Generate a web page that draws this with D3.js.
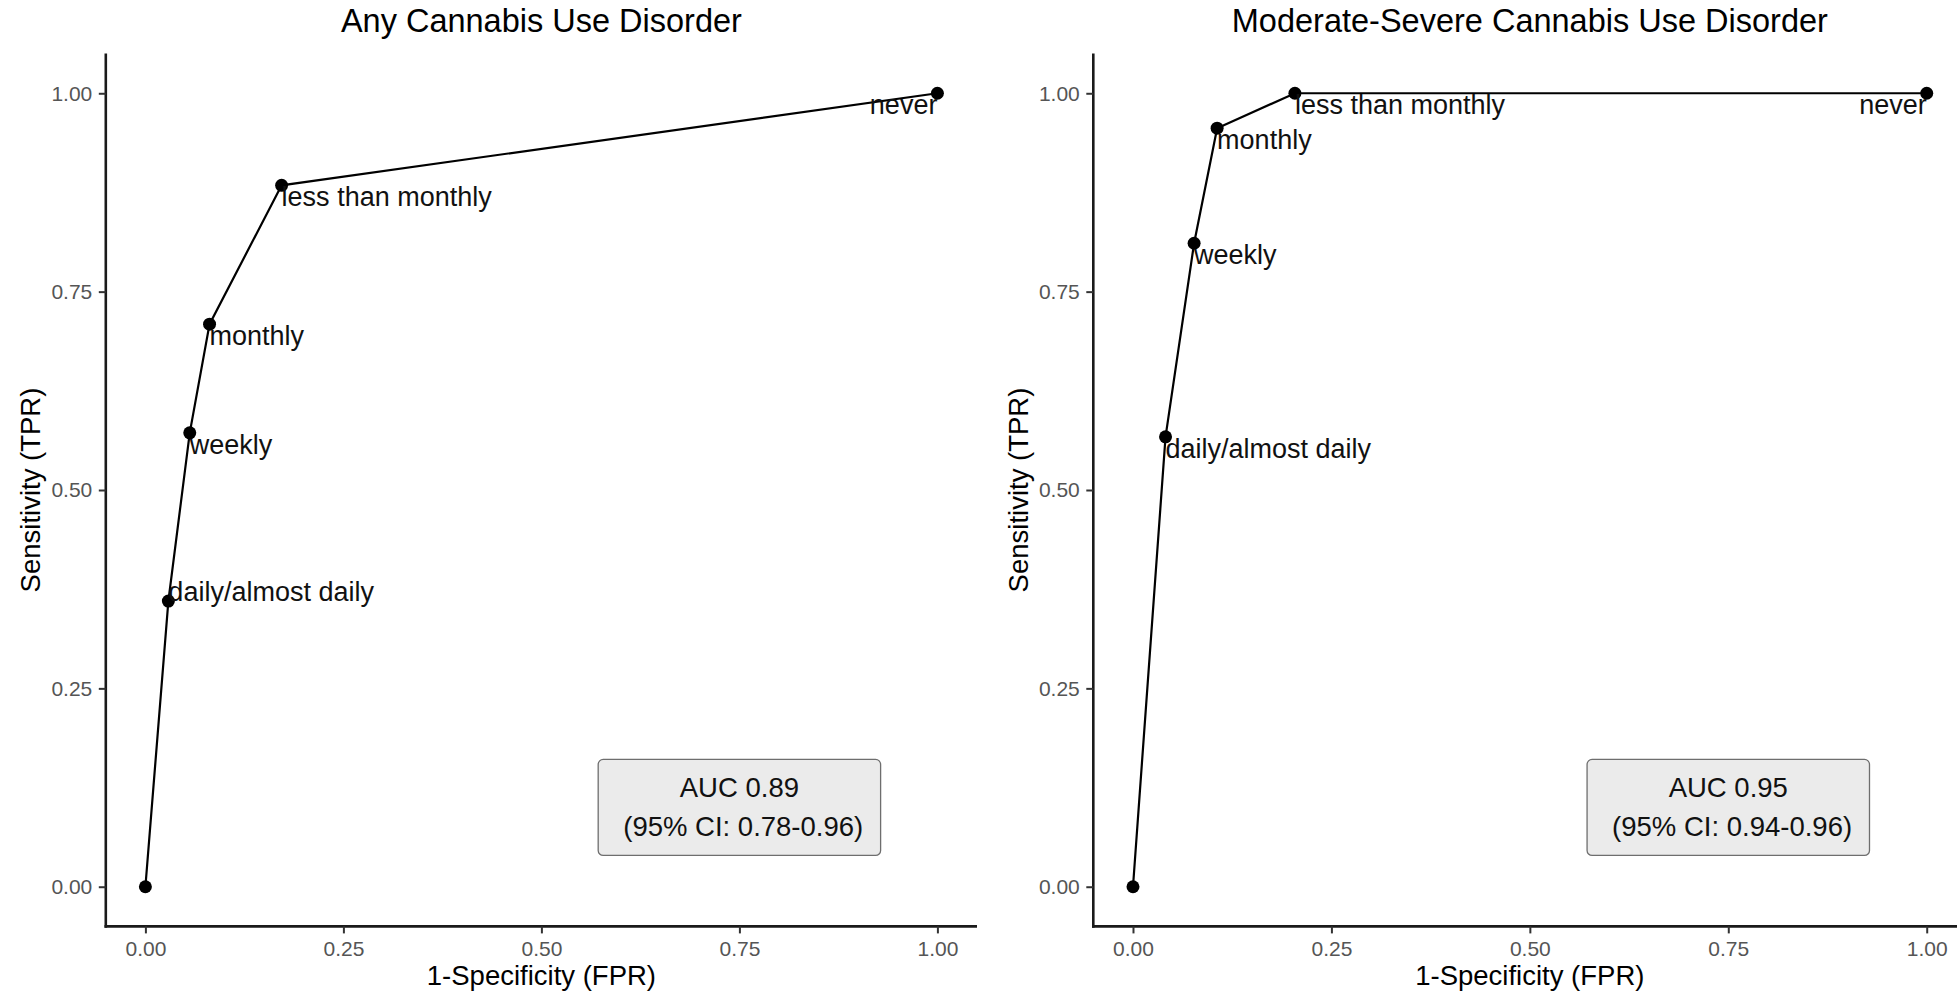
<!DOCTYPE html>
<html>
<head>
<meta charset="utf-8">
<script src="https://cdn.jsdelivr.net/npm/d3@7"></script>
<style>
  html, body { margin: 0; padding: 0; background: #fff; }
  svg { display: block; font-family: "Liberation Sans", Arial, Helvetica, sans-serif; }
</style>
</head>
<body>
<svg id="chart" width="1957" height="993"></svg>
<script>
// ROC points per usage-frequency threshold (FPR, TPR)
const thresholdLabels = ["", "daily/almost daily", "weekly", "monthly", "less than monthly", "never"];

const anyFPR = [0, 0.029, 0.056, 0.081, 0.172, 1];
const anyTPR = [0, 0.360, 0.572, 0.709, 0.884, 1];

const modFPR = [0, 0.041, 0.077, 0.106, 0.204, 1];
const modTPR = [0, 0.567, 0.811, 0.956, 1.000, 1];

const panelTitles = ["Any Cannabis Use Disorder", "Moderate-Severe Cannabis Use Disorder"];
const aucText = [
  ["AUC 0.89", " (95% CI: 0.78-0.96)"],
  ["AUC 0.95", " (95% CI: 0.94-0.96)"]
];
const aucPosition = [0.75, 0.10];   // data coordinates of the AUC box centre

const tickValues = [0, 0.25, 0.5, 0.75, 1];
const xTitle = "1-Specificity (FPR)";
const yTitle = "Sensitivity (TPR)";

const panels = [
  { title: panelTitles[0], fpr: anyFPR, tpr: anyTPR, auc: aucText[0], x0: 105.8, x1: 977.0 },
  { title: panelTitles[1], fpr: modFPR, tpr: modTPR, auc: aucText[1], x0: 1093.3, x1: 1966.4 }
];

const svg = d3.select("#chart");
const yTop = 53.6, yBottom = 926.4;
const fsTitle = 32.5, fsAxisTitle = 27.5, fsTick = 21, fsLabel = 27, fsAuc = 27.5;

panels.forEach(p => {
  const x = d3.scaleLinear().domain([-0.05, 1.05]).range([p.x0, p.x1]);
  const y = d3.scaleLinear().domain([-0.05, 1.05]).range([yBottom, yTop]);
  const g = svg.append("g");

  // axes
  const xAxis = d3.axisBottom(x).tickValues(tickValues).tickFormat(d3.format(".2f"))
    .tickSize(7).tickSizeOuter(0).tickPadding(8);
  const yAxis = d3.axisLeft(y).tickValues(tickValues).tickFormat(d3.format(".2f"))
    .tickSize(7).tickSizeOuter(0).tickPadding(6.5);

  const gx = g.append("g").attr("transform", `translate(0,${yBottom})`).call(xAxis);
  const gy = g.append("g").attr("transform", `translate(${p.x0},0)`).call(yAxis);
  [gx, gy].forEach(a => {
    a.select(".domain").attr("stroke", "#1a1a1a").attr("stroke-width", 2.6);
    a.selectAll(".tick line").attr("stroke", "#333").attr("stroke-width", 2);
    a.selectAll(".tick text").attr("fill", "#555").attr("font-size", fsTick)
      .attr("font-family", "Liberation Sans, Arial, sans-serif");
  });
  // extend axis lines so they meet at the corner
  gx.select(".domain").attr("d", `M${p.x0 - 1.3},0H${p.x1}`);
  gy.select(".domain").attr("d", `M0,${yTop}V${yBottom + 1.3}`);

  // titles
  g.append("text").attr("x", (p.x0 + p.x1) / 2).attr("y", 31.7)
    .attr("text-anchor", "middle").attr("font-size", fsTitle).attr("fill", "#000")
    .text(p.title);
  g.append("text").attr("x", (p.x0 + p.x1) / 2).attr("y", 985)
    .attr("text-anchor", "middle").attr("font-size", fsAxisTitle).attr("fill", "#000")
    .text(xTitle);
  g.append("text")
    .attr("transform", `translate(${p.x0 - 65.8},${(yTop + yBottom) / 2}) rotate(-90)`)
    .attr("text-anchor", "middle").attr("font-size", fsAxisTitle).attr("fill", "#000")
    .text(yTitle);

  // ROC curve
  const pts = p.fpr.map((f, i) => ({ f, t: p.tpr[i], label: thresholdLabels[i] }));
  const line = d3.line().x(d => x(d.f)).y(d => y(d.t));
  g.append("path").datum(pts).attr("d", line)
    .attr("fill", "none").attr("stroke", "#000").attr("stroke-width", 2.2);

  g.selectAll("circle").data(pts).join("circle")
    .attr("cx", d => x(d.f)).attr("cy", d => y(d.t)).attr("r", 6.5).attr("fill", "#000");

  // threshold labels, pushed inward from the point
  g.selectAll("text.lbl").data(pts.filter(d => d.label)).join("text")
    .attr("class", "lbl")
    .attr("x", d => x(d.f)).attr("y", d => y(d.t))
    .attr("dy", d => d.t > 0.5 ? "0.78em" : "0em")
    .attr("text-anchor", d => d.f > 0.5 ? "end" : "start")
    .attr("font-size", fsLabel).attr("fill", "#111")
    .text(d => d.label);

  // AUC label box
  const cx = x(aucPosition[0]), cy = y(aucPosition[1]);
  const lineGap = fsAuc * 1.42, pad = 15;
  const boxH = 96;
  const box = g.append("g");
  const rect = box.append("rect");
  const texts = box.selectAll("text").data(p.auc).join("text")
    .attr("x", cx)
    .attr("y", (d, i) => cy - boxH / 2 + pad + fsAuc * 0.82 + i * lineGap)
    .attr("text-anchor", "middle").attr("font-size", fsAuc).attr("fill", "#111")
    .style("white-space", "pre")
    .text(d => d);
  let maxW = 0;
  texts.each(function () { maxW = Math.max(maxW, this.getComputedTextLength()); });
  const boxW = maxW + 2 * 16.4 + 2;
  rect.attr("x", cx - boxW / 2).attr("y", cy - boxH / 2)
    .attr("width", boxW).attr("height", boxH).attr("rx", 5)
    .attr("fill", "#ebebeb").attr("stroke", "#6e6e6e").attr("stroke-width", 1.3);
});
</script>
</body>
</html>
